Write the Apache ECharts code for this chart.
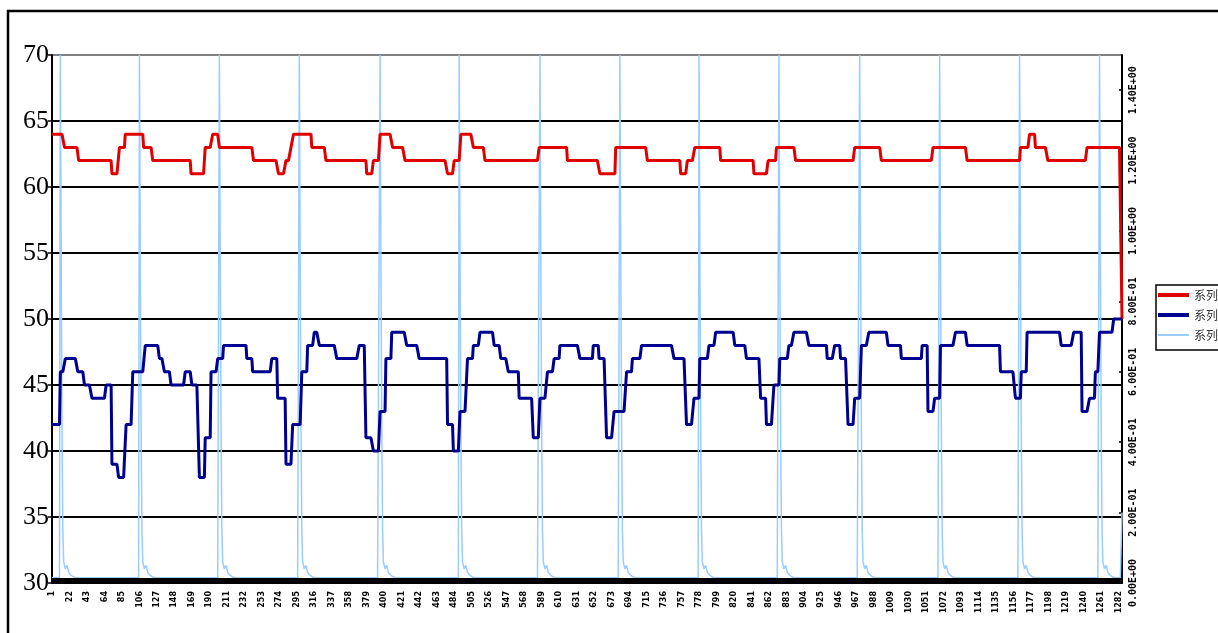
<!DOCTYPE html>
<html><head><meta charset="utf-8">
<script src="https://cdn.jsdelivr.net/npm/echarts@6/dist/echarts.min.js"></script>
<style>html,body{margin:0;padding:0;background:#fff}#c{width:1218px;height:633px}</style>
</head><body><div id="c"></div>
<script>
// ---- data ----
const POINT_COUNT = 1286;
const seriesNames = ['系列1', '系列2', '系列3'];
const leftTicks = [30, 35, 40, 45, 50, 55, 60, 65, 70];
const rightTickLabels = ['0.00E+00', '2.00E-01', '4.00E-01', '6.00E-01', '8.00E-01', '1.00E+00', '1.20E+00', '1.40E+00'];

// [start index, value] step breakpoints of series 1 (red)
const redSteps = [
  [0,64],[15,63],[32,62],[72,61],[81,63],[88,64],[110,63],[121,62],[167,61],[184,63],[193,64],[201,63],
  [242,62],[272,61],[281,62],[287,63],[290,64],[312,63],[329,62],[378,61],[386,62],[394,64],[409,63],
  [424,62],[475,61],[483,62],[491,64],[506,63],[520,62],[585,63],[619,62],[658,61],[677,63],[715,62],
  [755,61],[763,62],[772,63],[803,62],[843,61],[860,62],[870,63],[893,62],[964,63],[996,62],[1058,63],
  [1099,62],[1163,63],[1174,64],[1181,63],[1196,62],[1243,63],[1285,50]
];
// [start index, value] step breakpoints of series 2 (navy)
const navySteps = [
  [0,42],[10,46],[16,47],[31,46],[39,45],[48,44],[65,45],[72,39],[80,38],[89,42],[97,46],[112,48],
  [129,47],[135,46],[143,45],[160,46],[168,45],[177,38],[184,41],[191,46],[199,47],[206,48],[234,47],
  [241,46],[264,47],[271,44],[281,39],[289,42],[300,46],[307,48],[315,49],[321,48],[342,47],[369,48],
  [377,41],[386,40],[394,43],[401,47],[408,49],[426,48],[441,47],[475,42],[482,40],[490,43],[499,47],
  [506,48],[514,49],[531,48],[539,47],[548,46],[561,44],[578,41],[586,44],[595,46],[603,47],[610,48],
  [634,47],[650,48],[657,47],[666,41],[675,43],[690,46],[697,47],[708,48],[747,47],[762,42],[771,44],
  [778,47],[789,48],[797,49],[820,48],[834,47],[851,44],[858,42],[867,45],[874,47],[885,48],[891,49],
  [909,48],[931,47],[940,48],[947,47],[956,42],[964,44],[972,48],[981,49],[1004,48],[1020,47],[1045,48],
  [1052,43],[1060,44],[1067,48],[1085,49],[1099,48],[1139,46],[1157,44],[1164,46],[1171,49],[1212,48],
  [1227,49],[1237,43],[1246,44],[1253,46],[1258,49],[1275,50]
];
// series 3 (light blue, right axis): spike positions and the spike/decay values read after each spike
const blueSpikeStarts = [10, 105, 201, 297, 394, 489, 586, 682, 777, 873, 970, 1066, 1162, 1258];
const blueSpikeShape = [1.5, 0.95, 0.45, 0.15, 0.06, 0.05, 0.04, 0.045, 0.05, 0.04, 0.03, 0.028, 0.025, 0.022, 0.02, 0.018, 0.017, 0.016];
const blueBaseValue = 0.015;
const blueLastValue = 0.2;

// ---- build arrays ----
function expandSteps(steps, n) {
  const out = []; let k = 0;
  for (let i = 0; i < n; i++) {
    while (k + 1 < steps.length && steps[k + 1][0] <= i) k++;
    out.push(steps[k][1]);
  }
  return out;
}
const categories = [];
for (let i = 1; i <= POINT_COUNT; i++) categories.push(String(i));
const redData = expandSteps(redSteps, POINT_COUNT);
const navyData = expandSteps(navySteps, POINT_COUNT);
const blueData = new Array(POINT_COUNT).fill(blueBaseValue);
blueSpikeStarts.forEach(s => blueSpikeShape.forEach((v, j) => { if (s + j < POINT_COUNT) blueData[s + j] = v; }));
blueData[POINT_COUNT - 1] = blueLastValue;

const chart = echarts.init(document.getElementById('c'), null, { renderer: 'canvas' });
chart.setOption({
  animation: false,
  backgroundColor: '#fff',
  graphic: [{
    type: 'rect', silent: true, z: 100,
    shape: { x: 8, y: 11, width: 1400, height: 800 },
    style: { fill: 'none', stroke: '#000', lineWidth: 2.5 }
  }],
  grid: { left: 52, right: 96, top: 55, bottom: 50, containLabel: false },
  legend: {
    orient: 'vertical', left: 1156, top: 285,
    padding: [4, 40, 9, 2],
    borderColor: '#000', borderWidth: 1.5, backgroundColor: '#fff',
    itemWidth: 31, itemHeight: 4, itemGap: 8,
    itemStyle: { borderWidth: 0 },
    textStyle: { fontSize: 12, fontFamily: 'Noto Sans CJK SC', color: '#333' },
    data: [
      { name: seriesNames[0], icon: 'rect' },
      { name: seriesNames[1], icon: 'rect' },
      { name: seriesNames[2], icon: 'path://M0,0M0,1L31,1L31,3L0,3ZM31,4' }
    ]
  },
  xAxis: {
    type: 'category', data: categories, boundaryGap: false, z: 5,
    axisLine: { lineStyle: { color: '#000', width: 2 } },
    axisTick: { show: true, interval: 0, inside: true, length: 5, lineStyle: { color: '#000', width: 1 } },
    axisLabel: { interval: 20, rotate: 90, fontSize: 8, fontWeight: 'bold', fontFamily: 'DejaVu Sans', color: '#000', margin: 8 },
    splitLine: { show: false }
  },
  yAxis: [{
    type: 'value', min: leftTicks[0], max: leftTicks[leftTicks.length - 1], interval: 5, position: 'left',
    axisLine: { show: true, lineStyle: { color: '#000', width: 2 } },
    axisTick: { show: true, length: 4, lineStyle: { color: '#000', width: 1.5 } },
    axisLabel: { fontFamily: 'Liberation Serif', fontSize: 26, color: '#000', margin: 3 },
    splitLine: { show: true, lineStyle: { color: ['#000','#000','#000','#000','#000','#000','#000','#000','#808080'], width: 2 } }
  }, {
    type: 'value', min: 0, max: 1.5, interval: 0.2, position: 'right',
    axisLine: { show: true, lineStyle: { color: '#000', width: 2 } },
    axisTick: { show: true, inside: true, length: 3, lineStyle: { color: '#000', width: 1.5 } },
    axisLabel: {
      rotate: 90, fontSize: 10, fontWeight: 'bold', fontFamily: 'DejaVu Sans Mono', color: '#000', margin: 6,
      showMaxLabel: false,
      formatter: (v, i) => rightTickLabels[i] !== undefined ? rightTickLabels[i] : ''
    },
    splitLine: { show: false }
  }],
  series: [{
    name: seriesNames[0], type: 'line', data: redData, yAxisIndex: 0, z: 4,
    symbol: 'none', showSymbol: false, color: '#e00000',
    lineStyle: { color: '#e00000', width: 3 }
  }, {
    name: seriesNames[1], type: 'line', data: navyData, yAxisIndex: 0, z: 4,
    symbol: 'none', showSymbol: false, color: '#000090',
    lineStyle: { color: '#000090', width: 3 }
  }, {
    name: seriesNames[2], type: 'line', data: blueData, yAxisIndex: 1, z: 3,
    symbol: 'none', showSymbol: false, color: '#99ccff',
    lineStyle: { color: '#99ccff', width: 1.5 }
  }]
});
</script></body></html>
